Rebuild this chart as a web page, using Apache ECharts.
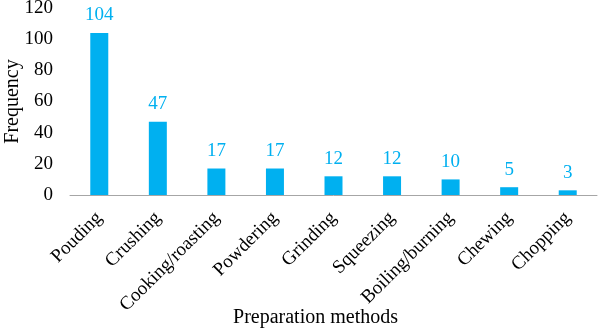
<!DOCTYPE html>
<html><head><meta charset="utf-8">
<script src="https://cdn.jsdelivr.net/npm/echarts@6/dist/echarts.min.js"></script>
<style>html,body{margin:0;padding:0;background:#fff}#c{width:598px;height:329px}</style>
</head><body><div id="c"></div>
<script>
const categories = ["Pouding","Crushing","Cooking/roasting","Powdering","Grinding","Squeezing","Boiling/burning","Chewing","Chopping"];
const values = [104,47,17,17,12,12,10,5,3];
const yTicks = {min:0, max:120, interval:20};
const font = "'Liberation Serif', 'Times New Roman', serif";
const chart = echarts.init(document.getElementById('c'));
chart.setOption({
  animation:false,
  grid:{left:70,right:1,top:8,bottom:134,containLabel:false,outerBoundsMode:'none'},
  xAxis:{type:'category',data:categories,
    axisLine:{lineStyle:{color:'#A6A6A6',width:1}},
    axisTick:{show:false},
    axisLabel:{rotate:45,interval:0,color:'#000',fontFamily:font,fontSize:19,margin:20},
    name:'Preparation methods',nameLocation:'middle',nameGap:113,nameMoveOverlap:false,
    nameTextStyle:{color:'#000',fontFamily:font,fontSize:20,padding:[0,36,0,0]}},
  yAxis:{type:'value',min:yTicks.min,max:yTicks.max,interval:yTicks.interval,
    axisLine:{show:false},axisTick:{show:false},splitLine:{show:false},
    axisLabel:{color:'#000',fontFamily:font,fontSize:19,margin:17},
    name:'Frequency',nameLocation:'middle',nameGap:47,nameMoveOverlap:false,
    nameTextStyle:{color:'#000',fontFamily:font,fontSize:20}},
  series:[{type:'bar',data:values,barWidth:18,
    itemStyle:{color:'#00B0F0'},
    label:{show:true,position:'top',distance:8,color:'#00B0F0',fontFamily:font,fontSize:19}}]
});
</script></body></html>
